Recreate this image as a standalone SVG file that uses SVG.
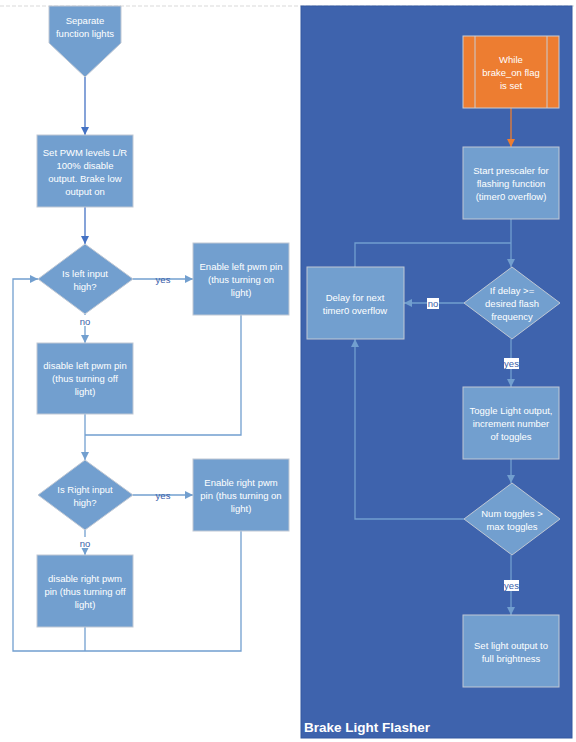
<svg xmlns="http://www.w3.org/2000/svg" width="576" height="742" viewBox="0 0 576 742">
<style>
.n{fill:#729FCF;stroke:#C0C8D4;stroke-width:1}
.t{font-family:"Liberation Sans",Arial,sans-serif;font-size:9.5px;fill:#fff;text-anchor:middle}
.c{fill:none;stroke:#729FCF;stroke-width:1.3}
.cd{fill:none;stroke:#4472C4;stroke-width:1.3}
.lb{font-family:"Liberation Sans",Arial,sans-serif;font-size:9.5px;fill:#3A5EA8;text-anchor:middle}
</style>
<defs>
<marker id="a" markerUnits="userSpaceOnUse" markerWidth="10" markerHeight="10" refX="9" refY="5" orient="auto"><path d="M1,1 L9,5 L1,9 Z" fill="#729FCF"/></marker>
<marker id="ad" markerUnits="userSpaceOnUse" markerWidth="10" markerHeight="10" refX="9" refY="5" orient="auto"><path d="M1,1 L9,5 L1,9 Z" fill="#4472C4"/></marker>
<marker id="ao" markerUnits="userSpaceOnUse" markerWidth="10" markerHeight="10" refX="9" refY="5" orient="auto"><path d="M1,1 L9,5 L1,9 Z" fill="#ED7D31"/></marker>
</defs>
<rect x="0" y="0" width="576" height="742" fill="#fff"/>
<line x1="0" y1="6" x2="576" y2="6" stroke="#D9D9D9" stroke-dasharray="4,2"/>
<g id="panel">
<rect x="301" y="6" width="271" height="732" fill="#3E63AD" stroke="#3358A0"/>
<text x="304" y="732" font-family="'Liberation Sans',Arial,sans-serif" font-size="13.5" font-weight="bold" fill="#fff">Brake Light Flasher</text>
</g>
<g id="connectors">
<path class="cd" d="M85,77 V135" marker-end="url(#ad)"/>
<path class="cd" d="M85,207 V244" marker-end="url(#ad)"/>
<path class="c" d="M133,279 H193" marker-end="url(#a)"/>
<path class="c" d="M85,314 V343" marker-end="url(#a)"/>
<path class="c" d="M85,414 V460" marker-end="url(#a)"/>
<path class="c" d="M241,315 V435 H85"/>
<path class="c" d="M133,495 H193" marker-end="url(#a)"/>
<path class="c" d="M85,530 V555" marker-end="url(#a)"/>
<path class="c" d="M85,627 V651"/>
<path class="c" d="M241,531 V651 H13 V279 H38" marker-end="url(#a)"/>
<path fill="none" stroke="#ED7D31" stroke-width="1.3" d="M511,108 V147" marker-end="url(#ao)"/>
<path class="c" d="M511,219 V267" marker-end="url(#a)"/>
<path class="c" d="M355,267 V243 H511"/>
<path class="c" d="M464,303 H404" marker-end="url(#a)"/>
<path class="c" d="M511,339 V387" marker-end="url(#a)"/>
<path class="c" d="M511,459 V483" marker-end="url(#a)"/>
<path class="c" d="M464,519 H355 V339" marker-end="url(#a)"/>
<path class="c" d="M511,555 V615" marker-end="url(#a)"/>
<text class="lb" x="163" y="282.5">yes</text>
<rect x="78" y="315" width="14" height="11" fill="#fff"/>
<text class="lb" x="85" y="324.5">no</text>
<text class="lb" x="163" y="498.5">yes</text>
<rect x="78" y="537" width="14" height="11" fill="#fff"/>
<text class="lb" x="85" y="546.5">no</text>
<rect x="427" y="298" width="12" height="11" fill="#fff"/>
<text class="lb" x="433" y="306.5">no</text>
<rect x="504" y="358" width="15" height="11" fill="#fff"/>
<text class="lb" x="511.5" y="366.5">yes</text>
<rect x="504" y="580" width="15" height="11" fill="#fff"/>
<text class="lb" x="511.5" y="588.5">yes</text>
</g>
<g id="separate">
<path class="n" d="M49,6 H121 V43 L85,77 L49,43 Z"/>
<text class="t" x="85" y="23.5">Separate</text>
<text class="t" x="85" y="36.5">function lights</text>
</g>
<g id="setpwm">
<rect class="n" x="37" y="135" width="96" height="72"/>
<text class="t" x="85" y="155.5">Set PWM levels L/R</text>
<text class="t" x="85" y="168.5">100% disable</text>
<text class="t" x="85" y="181.5">output. Brake low</text>
<text class="t" x="85" y="194.5">output on</text>
</g>
<g id="leftq">
<path class="n" d="M85,244 L133,279 L85,314 L38,279 Z"/>
<text class="t" x="85" y="276.5">Is left input</text>
<text class="t" x="85" y="289.5">high?</text>
</g>
<g id="enleft">
<rect class="n" x="193" y="243" width="96" height="72"/>
<text class="t" x="241" y="269.5">Enable left pwm pin</text>
<text class="t" x="241" y="282.5">(thus turning on</text>
<text class="t" x="241" y="295.5">light)</text>
</g>
<g id="disleft">
<rect class="n" x="37" y="343" width="96" height="71"/>
<text class="t" x="85" y="368.5">disable left pwm pin</text>
<text class="t" x="85" y="381.5">(thus turning off</text>
<text class="t" x="85" y="394.5">light)</text>
</g>
<g id="rightq">
<path class="n" d="M85,460 L133,495 L85,530 L38,495 Z"/>
<text class="t" x="85" y="492.5">Is Right input</text>
<text class="t" x="85" y="505.5">high?</text>
</g>
<g id="enright">
<rect class="n" x="193" y="459" width="96" height="72"/>
<text class="t" x="241" y="485.5">Enable right pwm</text>
<text class="t" x="241" y="498.5">pin (thus turning on</text>
<text class="t" x="241" y="511.5">light)</text>
</g>
<g id="disright">
<rect class="n" x="37" y="555" width="96" height="72"/>
<text class="t" x="85" y="581.5">disable right pwm</text>
<text class="t" x="85" y="594.5">pin  (thus turning off</text>
<text class="t" x="85" y="607.5">light)</text>
</g>
<g id="while">
<rect x="463" y="36" width="96" height="72" fill="#ED7D31" stroke="#C9CDD4"/>
<line x1="475" y1="36" x2="475" y2="108" stroke="#C9CDD4"/>
<line x1="547" y1="36" x2="547" y2="108" stroke="#C9CDD4"/>
<text class="t" x="511" y="62.5">While</text>
<text class="t" x="511" y="75.5">brake_on flag</text>
<text class="t" x="511" y="88.5">is set</text>
</g>
<g id="prescaler">
<rect class="n" x="463" y="147" width="96" height="72"/>
<text class="t" x="511" y="173.5">Start prescaler for</text>
<text class="t" x="511" y="186.5">flashing function</text>
<text class="t" x="511" y="199.5">(timer0 overflow)</text>
</g>
<g id="delayq">
<path class="n" d="M512,267 L560,303 L512,339 L464,303 Z"/>
<text class="t" x="512" y="293.5">If delay &gt;=</text>
<text class="t" x="512" y="306.5">desired flash</text>
<text class="t" x="512" y="319.5">frequency</text>
</g>
<g id="delay">
<rect class="n" x="307" y="267" width="97" height="72"/>
<text class="t" x="355" y="300.5">Delay for next</text>
<text class="t" x="355" y="313.5">timer0 overflow</text>
</g>
<g id="toggle">
<rect class="n" x="463" y="387" width="96" height="72"/>
<text class="t" x="511" y="413.5">Toggle Light  output,</text>
<text class="t" x="511" y="426.5">increment number</text>
<text class="t" x="511" y="439.5">of toggles</text>
</g>
<g id="numq">
<path class="n" d="M512,483 L560,519 L512,555 L464,519 Z"/>
<text class="t" x="512" y="516.5">Num toggles &gt;</text>
<text class="t" x="512" y="529.5">max toggles</text>
</g>
<g id="full">
<rect class="n" x="463" y="615" width="96" height="72"/>
<text class="t" x="511" y="648.5">Set light output to</text>
<text class="t" x="511" y="661.5">full brightness</text>
</g>
</svg>
